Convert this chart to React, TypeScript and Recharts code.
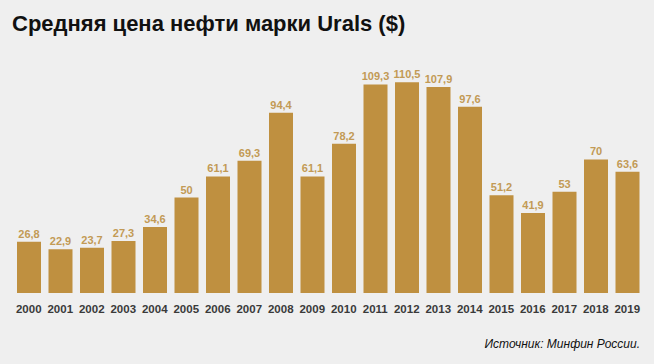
import React from 'react';
import { BarChart, Bar, XAxis, YAxis, LabelList } from 'recharts';

const years = ['2000','2001','2002','2003','2004','2005','2006','2007','2008','2009','2010','2011','2012','2013','2014','2015','2016','2017','2018','2019'];
const prices = [26.8, 22.9, 23.7, 27.3, 34.6, 50, 61.1, 69.3, 94.4, 61.1, 78.2, 109.3, 110.5, 107.9, 97.6, 51.2, 41.9, 53, 70, 63.6];

const data = years.map((y, i) => ({ year: y, price: prices[i] }));

const fmt = (v: any) => String(v).replace('.', ',');

export default function App() {
  return (
    <div style={{ position: 'absolute', left: 0, top: 0, width: 654, height: 364, background: '#EFEFEF', fontFamily: '"Liberation Sans", Arial, sans-serif' }}>
      <div style={{ position: 'absolute', left: 12, top: 11, fontSize: 22, fontWeight: 700, color: '#111', whiteSpace: 'nowrap' }}>
        Средняя цена нефти марки Urals ($)
      </div>
      <div style={{ position: 'absolute', right: 14, top: 337, fontSize: 12, fontStyle: 'italic', color: '#111', whiteSpace: 'nowrap' }}>
        Источник: Минфин России.
      </div>
      <div style={{ position: 'absolute', left: 0, top: 0 }}>
        <BarChart width={654} height={364} data={data} margin={{ top: 64, right: 11, left: 13, bottom: 41 }}>
          <XAxis dataKey="year" axisLine={false} tickLine={false} height={30} tickMargin={6} interval={0}
            tick={{ fontSize: 11.5, fill: '#3a3a3a', fontWeight: 600, fontFamily: '"Liberation Sans", Arial, sans-serif' }} />
          <YAxis hide domain={[0, 120]} />
          <Bar dataKey="price" fill="#BF9040" barSize={24} isAnimationActive={false}>
            <LabelList dataKey="price" position="top" offset={4} formatter={fmt}
              style={{ fontSize: 11, fill: '#C29A55', fontWeight: 600, fontFamily: '"Liberation Sans", Arial, sans-serif' }} />
          </Bar>
        </BarChart>
      </div>
    </div>
  );
}
